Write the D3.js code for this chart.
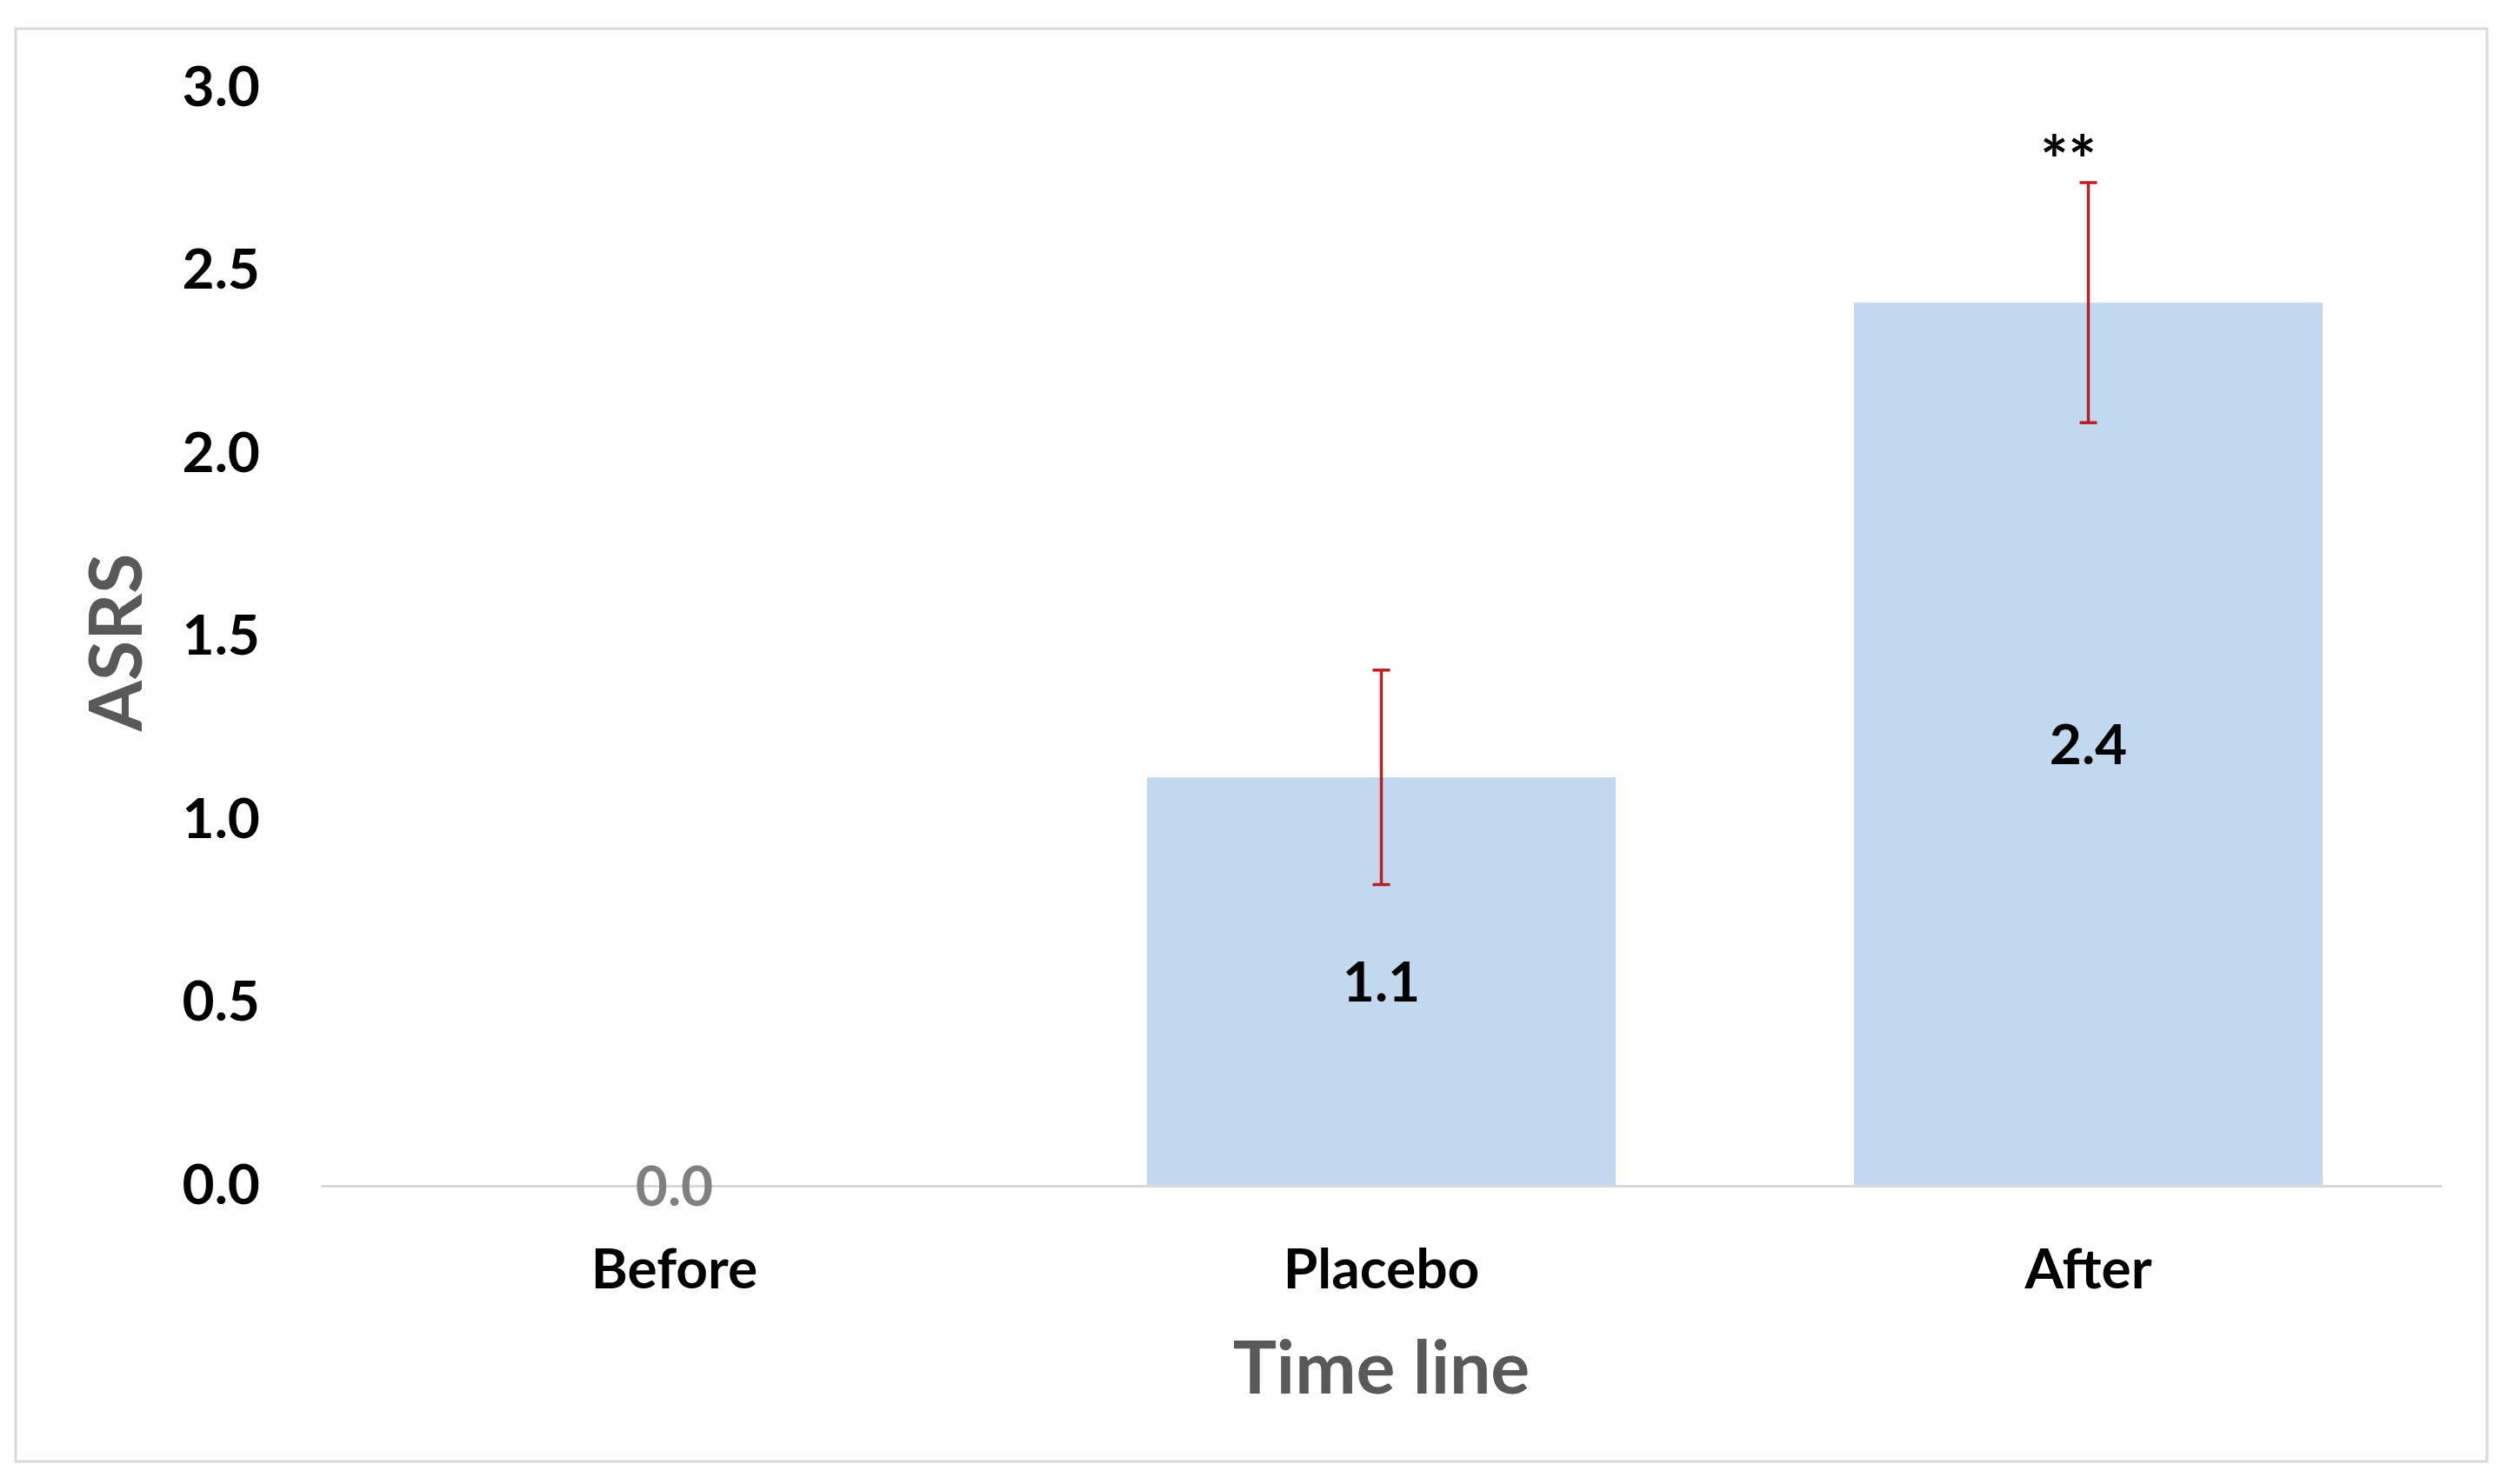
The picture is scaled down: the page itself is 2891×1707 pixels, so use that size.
<!DOCTYPE html>
<html>
<head>
<meta charset="utf-8">
<script src="https://cdn.jsdelivr.net/npm/d3@7"></script>
<style>
  html, body { margin: 0; padding: 0; background: #ffffff; }
  svg { display: block; }
</style>
</head>
<body>
<svg id="chart" width="2891" height="1707"></svg>
<script>
// ---- data ----
const categories = ["Before", "Placebo", "After"];
const means = [0.0, 1.116, 2.413];
const errors = [null, 0.293, 0.328];
const valueLabels = ["0.0", "1.1", "2.4"];
const significance = ["", "", "**"];
const yTicks = [0.0, 0.5, 1.0, 1.5, 2.0, 2.5, 3.0];
const xTitle = "Time line";
const yTitle = "ASRS";

// ---- layout ----
const plot = { left: 369, right: 2808, top: 101, bottom: 1364 };
const font = "Lato, 'Open Sans', sans-serif";

const svg = d3.select("#chart");

// outer frame
svg.append("rect")
  .attr("x", 18).attr("y", 33)
  .attr("width", 2842).attr("height", 1648)
  .attr("fill", "#ffffff")
  .attr("stroke", "#d9d9d9")
  .attr("stroke-width", 3);

const x = d3.scaleBand()
  .domain(categories)
  .range([plot.left, plot.right])
  .paddingInner(0.337)
  .paddingOuter(0.1685);

const y = d3.scaleLinear()
  .domain([0, 3])
  .range([plot.bottom, plot.top]);

// bars
svg.append("g").selectAll("rect")
  .data(categories)
  .join("rect")
  .attr("x", d => x(d))
  .attr("width", x.bandwidth())
  .attr("y", (d, i) => y(means[i]))
  .attr("height", (d, i) => y(0) - y(means[i]))
  .attr("fill", "#c2d8ef");

// x axis
const xAxis = svg.append("g")
  .attr("transform", `translate(0,${plot.bottom})`)
  .call(d3.axisBottom(x).tickSize(0).tickPadding(73));
xAxis.select(".domain").attr("stroke", "#d9d9d9").attr("stroke-width", 3);
xAxis.selectAll("text")
  .attr("font-family", font)
  .attr("font-weight", "bold")
  .attr("font-size", 64)
  .attr("fill", "#000000");

// y axis
const yAxis = svg.append("g")
  .attr("transform", `translate(${plot.left},0)`)
  .call(d3.axisLeft(y).tickValues(yTicks).tickFormat(d3.format(".1f")).tickSize(0).tickPadding(70));
yAxis.select(".domain").remove();
yAxis.selectAll("text")
  .attr("font-family", font)
  .attr("font-weight", "bold")
  .attr("font-size", 64)
  .attr("fill", "#000000");

// error bars
const eb = svg.append("g").attr("stroke", "#b82025").attr("stroke-width", 3.5).attr("fill", "none");
categories.forEach((c, i) => {
  if (errors[i] == null) return;
  const cx = x(c) + x.bandwidth() / 2;
  const hi = y(means[i] + errors[i]);
  const lo = y(means[i] - errors[i]);
  eb.append("line").attr("x1", cx).attr("x2", cx).attr("y1", hi).attr("y2", lo);
  eb.append("line").attr("x1", cx - 10).attr("x2", cx + 10).attr("y1", hi).attr("y2", hi);
  eb.append("line").attr("x1", cx - 10).attr("x2", cx + 10).attr("y1", lo).attr("y2", lo);
});

// value labels
svg.append("g").selectAll("text")
  .data(categories)
  .join("text")
  .attr("x", d => x(d) + x.bandwidth() / 2)
  .attr("y", (d, i) => (y(means[i]) + y(0)) / 2)
  .attr("dy", "0.36em")
  .attr("text-anchor", "middle")
  .attr("font-family", font)
  .attr("font-weight", "bold")
  .attr("font-size", 64)
  .attr("fill", (d, i) => means[i] === 0 ? "#808080" : "#000000")
  .text((d, i) => valueLabels[i]);

// significance markers
svg.append("g").selectAll("text")
  .data(categories)
  .join("text")
  .attr("x", d => x(d) + x.bandwidth() / 2 - 23)
  .attr("y", (d, i) => y(means[i] + (errors[i] || 0)) + 2)
  .attr("text-anchor", "middle")
  .attr("font-family", font)
  .attr("font-weight", "bold")
  .attr("font-size", 76)
  .attr("fill", "#000000")
  .text((d, i) => significance[i]);

// axis titles
svg.append("text")
  .attr("x", (plot.left + plot.right) / 2)
  .attr("y", 1573)
  .attr("dy", "0.36em")
  .attr("text-anchor", "middle")
  .attr("font-family", font)
  .attr("font-weight", "bold")
  .attr("font-size", 84)
  .attr("fill", "#595959")
  .text(xTitle);

svg.append("text")
  .attr("transform", `translate(133,739) rotate(-90)`)
  .attr("dy", "0.36em")
  .attr("text-anchor", "middle")
  .attr("font-family", font)
  .attr("font-weight", "bold")
  .attr("font-size", 84)
  .attr("fill", "#595959")
  .text(yTitle);
</script>
</body>
</html>
